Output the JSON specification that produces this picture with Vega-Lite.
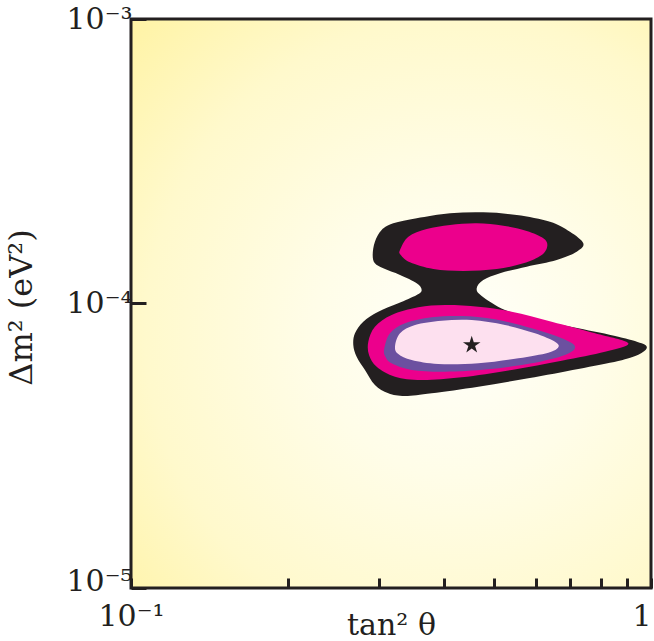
{
  "$schema": "https://vega.github.io/schema/vega-lite/v6.json",
  "width": 520,
  "height": 569,
  "autosize": {"type": "none"},
  "padding": {"left": 131, "top": 19, "right": 3, "bottom": 53},
  "background": "white",
  "config": {
    "view": {"stroke": null},
    "axis": {
      "labelFont": "DejaVu Serif", "titleFont": "DejaVu Serif",
      "labelFontSize": 30, "titleFontSize": 30, "titleFontWeight": "normal",
      "labelColor": "#231f20", "titleColor": "#231f20",
      "tickColor": "#231f20", "tickWidth": 3,
      "domain": false, "grid": false
    }
  },
  "datasets": {
    "panel": [{"tan2": 0.1, "tan2_end": 1, "dm2": 1e-5, "dm2_end": 1e-3}],
    "bestfit": [{"tan2": 0.4521, "dm2": 7.146e-5}],
    "contours": [
      {"level": "outer", "i": 1, "tan2": 0.2916, "dm2": 1.481e-4},
      {"level": "outer", "i": 2, "tan2": 0.2945, "dm2": 1.649e-4},
      {"level": "outer", "i": 3, "tan2": 0.3034, "dm2": 1.813e-4},
      {"level": "outer", "i": 4, "tan2": 0.3194, "dm2": 1.914e-4},
      {"level": "outer", "i": 5, "tan2": 0.3543, "dm2": 1.993e-4},
      {"level": "outer", "i": 6, "tan2": 0.4107, "dm2": 2.075e-4},
      {"level": "outer", "i": 7, "tan2": 0.4759, "dm2": 2.092e-4},
      {"level": "outer", "i": 8, "tan2": 0.5517, "dm2": 2.047e-4},
      {"level": "outer", "i": 9, "tan2": 0.6394, "dm2": 1.939e-4},
      {"level": "outer", "i": 10, "tan2": 0.6985, "dm2": 1.788e-4},
      {"level": "outer", "i": 11, "tan2": 0.741, "dm2": 1.628e-4},
      {"level": "outer", "i": 12, "tan2": 0.7197, "dm2": 1.521e-4},
      {"level": "outer", "i": 13, "tan2": 0.6587, "dm2": 1.422e-4},
      {"level": "outer", "i": 14, "tan2": 0.5768, "dm2": 1.347e-4},
      {"level": "outer", "i": 15, "tan2": 0.5124, "dm2": 1.277e-4},
      {"level": "outer", "i": 16, "tan2": 0.4759, "dm2": 1.209e-4},
      {"level": "outer", "i": 17, "tan2": 0.4622, "dm2": 1.131e-4},
      {"level": "outer", "i": 18, "tan2": 0.4725, "dm2": 1.063e-4},
      {"level": "outer", "i": 19, "tan2": 0.5239, "dm2": 9.489e-5},
      {"level": "outer", "i": 20, "tan2": 0.6071, "dm2": 8.75e-5},
      {"level": "outer", "i": 21, "tan2": 0.7249, "dm2": 8.18e-5},
      {"level": "outer", "i": 22, "tan2": 0.8651, "dm2": 7.644e-5},
      {"level": "outer", "i": 23, "tan2": 0.9596, "dm2": 7.245e-5},
      {"level": "outer", "i": 24, "tan2": 0.9811, "dm2": 6.958e-5},
      {"level": "outer", "i": 25, "tan2": 0.9454, "dm2": 6.607e-5},
      {"level": "outer", "i": 26, "tan2": 0.8651, "dm2": 6.279e-5},
      {"level": "outer", "i": 27, "tan2": 0.7249, "dm2": 5.886e-5},
      {"level": "outer", "i": 28, "tan2": 0.5808, "dm2": 5.459e-5},
      {"level": "outer", "i": 29, "tan2": 0.4655, "dm2": 5.101e-5},
      {"level": "outer", "i": 30, "tan2": 0.3787, "dm2": 4.836e-5},
      {"level": "outer", "i": 31, "tan2": 0.3365, "dm2": 4.731e-5},
      {"level": "outer", "i": 32, "tan2": 0.3125, "dm2": 4.836e-5},
      {"level": "outer", "i": 33, "tan2": 0.2945, "dm2": 5.171e-5},
      {"level": "outer", "i": 34, "tan2": 0.2818, "dm2": 5.839e-5},
      {"level": "outer", "i": 35, "tan2": 0.2716, "dm2": 6.501e-5},
      {"level": "outer", "i": 36, "tan2": 0.2676, "dm2": 7.146e-5},
      {"level": "outer", "i": 37, "tan2": 0.2696, "dm2": 7.857e-5},
      {"level": "outer", "i": 38, "tan2": 0.2797, "dm2": 8.63e-5},
      {"level": "outer", "i": 39, "tan2": 0.2989, "dm2": 9.359e-5},
      {"level": "outer", "i": 40, "tan2": 0.3266, "dm2": 1.0016e-4},
      {"level": "outer", "i": 41, "tan2": 0.3543, "dm2": 1.071e-4},
      {"level": "outer", "i": 42, "tan2": 0.3622, "dm2": 1.116e-4},
      {"level": "outer", "i": 43, "tan2": 0.3543, "dm2": 1.178e-4},
      {"level": "outer", "i": 44, "tan2": 0.3291, "dm2": 1.259e-4},
      {"level": "outer", "i": 45, "tan2": 0.3056, "dm2": 1.329e-4},
      {"level": "outer", "i": 46, "tan2": 0.2945, "dm2": 1.384e-4},
      {"level": "upper", "i": 1, "tan2": 0.3291, "dm2": 1.542e-4},
      {"level": "upper", "i": 2, "tan2": 0.3415, "dm2": 1.717e-4},
      {"level": "upper", "i": 3, "tan2": 0.3704, "dm2": 1.827e-4},
      {"level": "upper", "i": 4, "tan2": 0.4107, "dm2": 1.888e-4},
      {"level": "upper", "i": 5, "tan2": 0.4622, "dm2": 1.914e-4},
      {"level": "upper", "i": 6, "tan2": 0.52, "dm2": 1.877e-4},
      {"level": "upper", "i": 7, "tan2": 0.5768, "dm2": 1.798e-4},
      {"level": "upper", "i": 8, "tan2": 0.6207, "dm2": 1.695e-4},
      {"level": "upper", "i": 9, "tan2": 0.6318, "dm2": 1.597e-4},
      {"level": "upper", "i": 10, "tan2": 0.6163, "dm2": 1.481e-4},
      {"level": "upper", "i": 11, "tan2": 0.5681, "dm2": 1.384e-4},
      {"level": "upper", "i": 12, "tan2": 0.505, "dm2": 1.322e-4},
      {"level": "upper", "i": 13, "tan2": 0.4355, "dm2": 1.301e-4},
      {"level": "upper", "i": 14, "tan2": 0.3814, "dm2": 1.322e-4},
      {"level": "upper", "i": 15, "tan2": 0.344, "dm2": 1.396e-4},
      {"level": "upper", "i": 16, "tan2": 0.3302, "dm2": 1.481e-4},
      {"level": "lower", "i": 1, "tan2": 0.286, "dm2": 7.339e-5},
      {"level": "lower", "i": 2, "tan2": 0.2945, "dm2": 8.289e-5},
      {"level": "lower", "i": 3, "tan2": 0.3171, "dm2": 9.112e-5},
      {"level": "lower", "i": 4, "tan2": 0.3568, "dm2": 9.696e-5},
      {"level": "lower", "i": 5, "tan2": 0.4017, "dm2": 9.879e-5},
      {"level": "lower", "i": 6, "tan2": 0.4655, "dm2": 9.745e-5},
      {"level": "lower", "i": 7, "tan2": 0.5396, "dm2": 9.359e-5},
      {"level": "lower", "i": 8, "tan2": 0.6442, "dm2": 8.63e-5},
      {"level": "lower", "i": 9, "tan2": 0.7805, "dm2": 7.857e-5},
      {"level": "lower", "i": 10, "tan2": 0.9044, "dm2": 7.245e-5},
      {"level": "lower", "i": 11, "tan2": 0.8157, "dm2": 6.769e-5},
      {"level": "lower", "i": 12, "tan2": 0.6734, "dm2": 6.293e-5},
      {"level": "lower", "i": 13, "tan2": 0.5396, "dm2": 5.839e-5},
      {"level": "lower", "i": 14, "tan2": 0.4325, "dm2": 5.503e-5},
      {"level": "lower", "i": 15, "tan2": 0.3622, "dm2": 5.384e-5},
      {"level": "lower", "i": 16, "tan2": 0.3219, "dm2": 5.53e-5},
      {"level": "lower", "i": 17, "tan2": 0.2968, "dm2": 5.996e-5},
      {"level": "lower", "i": 18, "tan2": 0.2869, "dm2": 6.592e-5},
      {"level": "mid", "i": 1, "tan2": 0.307, "dm2": 6.958e-5},
      {"level": "mid", "i": 2, "tan2": 0.3148, "dm2": 7.857e-5},
      {"level": "mid", "i": 3, "tan2": 0.3365, "dm2": 8.519e-5},
      {"level": "mid", "i": 4, "tan2": 0.3787, "dm2": 8.943e-5},
      {"level": "mid", "i": 5, "tan2": 0.4325, "dm2": 9.039e-5},
      {"level": "mid", "i": 6, "tan2": 0.5012, "dm2": 8.801e-5},
      {"level": "mid", "i": 7, "tan2": 0.5896, "dm2": 8.18e-5},
      {"level": "mid", "i": 8, "tan2": 0.6734, "dm2": 7.546e-5},
      {"level": "mid", "i": 9, "tan2": 0.7143, "dm2": 7.05e-5},
      {"level": "mid", "i": 10, "tan2": 0.6833, "dm2": 6.592e-5},
      {"level": "mid", "i": 11, "tan2": 0.5896, "dm2": 6.163e-5},
      {"level": "mid", "i": 12, "tan2": 0.4865, "dm2": 5.871e-5},
      {"level": "mid", "i": 13, "tan2": 0.4017, "dm2": 5.758e-5},
      {"level": "mid", "i": 14, "tan2": 0.3466, "dm2": 5.839e-5},
      {"level": "mid", "i": 15, "tan2": 0.3171, "dm2": 6.163e-5},
      {"level": "mid", "i": 16, "tan2": 0.308, "dm2": 6.539e-5},
      {"level": "inner", "i": 1, "tan2": 0.3219, "dm2": 7.05e-5},
      {"level": "inner", "i": 2, "tan2": 0.3291, "dm2": 7.857e-5},
      {"level": "inner", "i": 3, "tan2": 0.3517, "dm2": 8.404e-5},
      {"level": "inner", "i": 4, "tan2": 0.3959, "dm2": 8.7e-5},
      {"level": "inner", "i": 5, "tan2": 0.4521, "dm2": 8.75e-5},
      {"level": "inner", "i": 6, "tan2": 0.5239, "dm2": 8.404e-5},
      {"level": "inner", "i": 7, "tan2": 0.5983, "dm2": 7.857e-5},
      {"level": "inner", "i": 8, "tan2": 0.6537, "dm2": 7.339e-5},
      {"level": "inner", "i": 9, "tan2": 0.6633, "dm2": 7.015e-5},
      {"level": "inner", "i": 10, "tan2": 0.6346, "dm2": 6.715e-5},
      {"level": "inner", "i": 11, "tan2": 0.5557, "dm2": 6.419e-5},
      {"level": "inner", "i": 12, "tan2": 0.4655, "dm2": 6.163e-5},
      {"level": "inner", "i": 13, "tan2": 0.3899, "dm2": 6.128e-5},
      {"level": "inner", "i": 14, "tan2": 0.3466, "dm2": 6.329e-5},
      {"level": "inner", "i": 15, "tan2": 0.3266, "dm2": 6.645e-5}
    ]
  },
  "encoding": {
    "x": {
      "field": "tan2", "type": "quantitative",
      "scale": {"type": "log", "domain": [0.1, 1], "nice": false},
      "axis": {
        "zindex": 2,
        "title": "tan² θ",
        "values": [0.1, 0.2, 0.3, 0.4, 0.5, 0.6, 0.7, 0.8, 0.9, 1],
        "tickSize": -10,
        "labelPadding": 23,
        "labelExpr": "datum.value < 0.15 ? '10⁻¹' : datum.value > 0.95 ? '1' : ''",
        "labelAlign": {"condition": {"test": "datum.value > 0.95", "value": "right"}, "value": "center"},
        "labelFlush": false,
        "titleX": 260, "titleY": 46, "titleAlign": "center", "titleBaseline": "alphabetic"
      }
    },
    "y": {
      "field": "dm2", "type": "quantitative",
      "scale": {"type": "log", "domain": [1e-5, 1e-3], "nice": false},
      "axis": {
        "zindex": 2,
        "title": "Δm² (eV²)",
        "titleFontSize": 32,
        "values": [1e-5, 1e-4, 1e-3],
        "tickSize": -15,
        "labelPadding": 14,
        "labelBaseline": "middle",
        "labelFlush": false,
        "labelOffset": {"condition": {"test": "datum.value < 5e-5", "value": -7}, "value": 0},
        "labelExpr": "datum.value < 5e-5 ? '10⁻⁵' : datum.value < 5e-4 ? '10⁻⁴' : '10⁻³'",
        "titleX": -110, "titleY": 288, "titleAngle": 270, "titleAlign": "center", "titleBaseline": "middle"
      }
    }
  },
  "layer": [
    {
      "data": {"name": "panel"},
      "mark": {
        "type": "rect",
        "stroke": "#231f20", "strokeWidth": 3,
        "fill": {
          "gradient": "radial",
          "x1": 0.62, "y1": 0.55, "r1": 0,
          "x2": 0.62, "y2": 0.55, "r2": 0.85,
          "stops": [
            {"offset": 0, "color": "#fffffa"},
            {"offset": 0.3, "color": "#fffde8"},
            {"offset": 0.65, "color": "#fff9cc"},
            {"offset": 1, "color": "#fff29c"}
          ]
        }
      },
      "encoding": {
        "x2": {"field": "tan2_end"},
        "y2": {"field": "dm2_end"}
      }
    },
    {
      "data": {"name": "contours"},
      "transform": [{"filter": "datum.level === 'outer'"}],
      "mark": {"type": "line", "interpolate": "cardinal-closed", "filled": true, "fill": "#231f20", "strokeWidth": 0},
      "encoding": {"order": {"field": "i", "type": "quantitative"}}
    },
    {
      "data": {"name": "contours"},
      "transform": [{"filter": "datum.level === 'upper'"}],
      "mark": {"type": "line", "interpolate": "cardinal-closed", "filled": true, "fill": "#ec008c", "strokeWidth": 0},
      "encoding": {"order": {"field": "i", "type": "quantitative"}}
    },
    {
      "data": {"name": "contours"},
      "transform": [{"filter": "datum.level === 'lower'"}],
      "mark": {"type": "line", "interpolate": "cardinal-closed", "filled": true, "fill": "#ec008c", "strokeWidth": 0},
      "encoding": {"order": {"field": "i", "type": "quantitative"}}
    },
    {
      "data": {"name": "contours"},
      "transform": [{"filter": "datum.level === 'mid'"}],
      "mark": {"type": "line", "interpolate": "cardinal-closed", "filled": true, "fill": "#6c50a0", "strokeWidth": 0},
      "encoding": {"order": {"field": "i", "type": "quantitative"}}
    },
    {
      "data": {"name": "contours"},
      "transform": [{"filter": "datum.level === 'inner'"}],
      "mark": {"type": "line", "interpolate": "cardinal-closed", "filled": true, "fill": "#fde0ef", "strokeWidth": 0},
      "encoding": {"order": {"field": "i", "type": "quantitative"}}
    },
    {
      "data": {"name": "bestfit"},
      "mark": {
        "type": "point", "filled": true, "color": "#231f20", "size": 340, "opacity": 1,
        "shape": "M0,-1L0.2245,-0.309L0.9511,-0.309L0.3633,0.118L0.5878,0.809L0,0.382L-0.5878,0.809L-0.3633,0.118L-0.9511,-0.309L-0.2245,-0.309Z"
      }
    }
  ]
}
